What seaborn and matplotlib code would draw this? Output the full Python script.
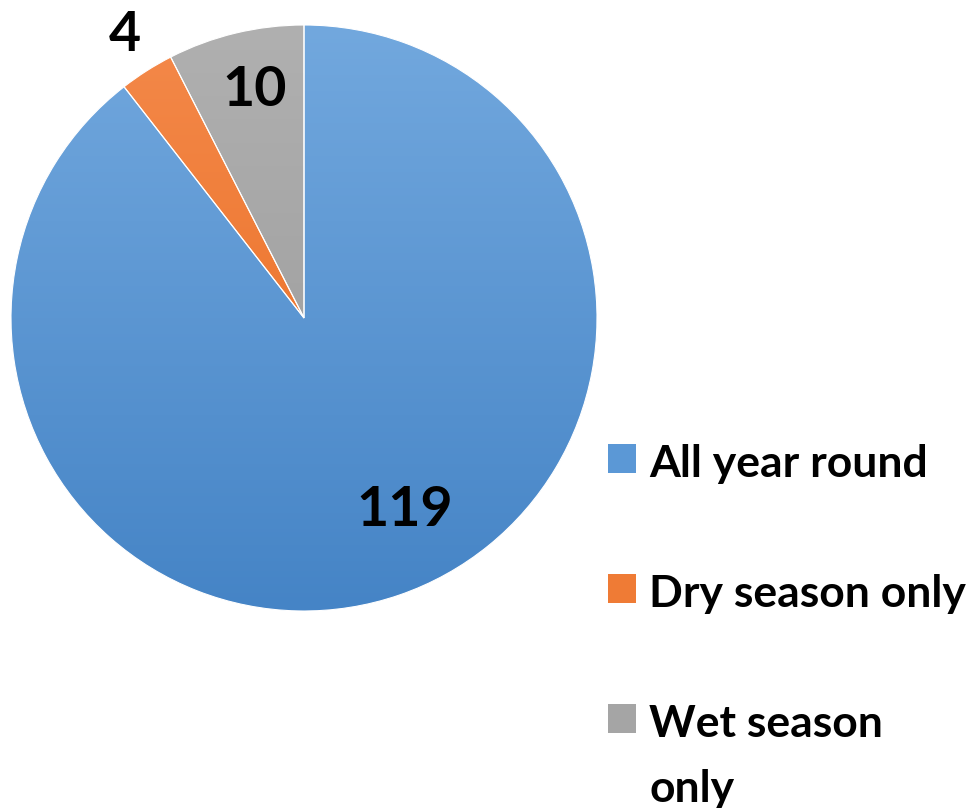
import matplotlib
matplotlib.use("Agg")
import matplotlib.pyplot as plt
import matplotlib.patches as mpatches
import numpy as np
import seaborn as sns
from matplotlib.colors import LinearSegmentedColormap

sns.set_theme(style="white")
plt.rcParams['font.family'] = ['Lato', 'DejaVu Sans']
plt.rcParams['text.color'] = 'black'

# data
categorias = ["All year round", "Dry season only", "Wet season\nonly"]
valores = [119, 4, 10]
# colores: (arriba, abajo) del degradado
colores_top = ["#72a8de", "#f4894a", "#b0b0b0"]
colores_bot = ["#4584c6", "#e8691c", "#979797"]
colores_mid = ["#5b98d6", "#ef7b35", "#a5a5a5"]

fig = plt.figure(figsize=(9.7, 8.08), dpi=100)
W, H = 970, 808
cx, cy, r = 304, 318, 293
ax = fig.add_axes([(cx - r) / W, (H - cy - r) / H, 2 * r / W, 2 * r / H])

wedges, _ = ax.pie(valores, startangle=90, counterclock=False, radius=1,
                   colors=colores_mid,
                   wedgeprops=dict(edgecolor="white", linewidth=0.8))

# degradado vertical dentro de cada sector
grad = np.linspace(0, 1, 256).reshape(-1, 1)
for w, ct, cb in zip(wedges, colores_top, colores_bot):
    cmap = LinearSegmentedColormap.from_list("g", [ct, cb])
    im = ax.imshow(grad, cmap=cmap, extent=[-1, 1, -1, 1], origin="upper",
                   aspect="auto", zorder=w.get_zorder() + 0.1)
    im.set_clip_path(w)
    w.set_facecolor("none")
    w.set_zorder(w.get_zorder() + 0.2)

ax.set_xlim(-1, 1)
ax.set_ylim(-1, 1)
ax.set_aspect("equal")
ax.axis("off")

# etiquetas de datos
pos_etiquetas = [(0.345, -0.655), (-0.611, 0.966), (-0.167, 0.778)]
for v, (x, y) in zip(valores, pos_etiquetas):
    ax.text(x, y, str(v), ha="center", va="center", fontsize=40,
            fontweight="bold", color="black", zorder=10, clip_on=False)

handles = [mpatches.Patch(facecolor=c, edgecolor="none") for c in colores_mid]
leg = fig.legend(handles, categorias, loc="upper left",
                 bbox_to_anchor=(608 / W, 1 - 444 / H), frameon=False,
                 prop=dict(size=32, weight="bold"), labelspacing=2.02,
                 handlelength=0.63, handleheight=0.63, handletextpad=0.3,
                 borderpad=0, borderaxespad=0)
for t in leg.get_texts():
    t.set_linespacing(1.77)
    t.set_color("black")
# cuadro alineado con la primera linea del texto
for col in leg._legend_handle_box.get_children():
    for fila in col.get_children():
        fila.align = "top"

fig.savefig("out.png", dpi=100, facecolor="white")
